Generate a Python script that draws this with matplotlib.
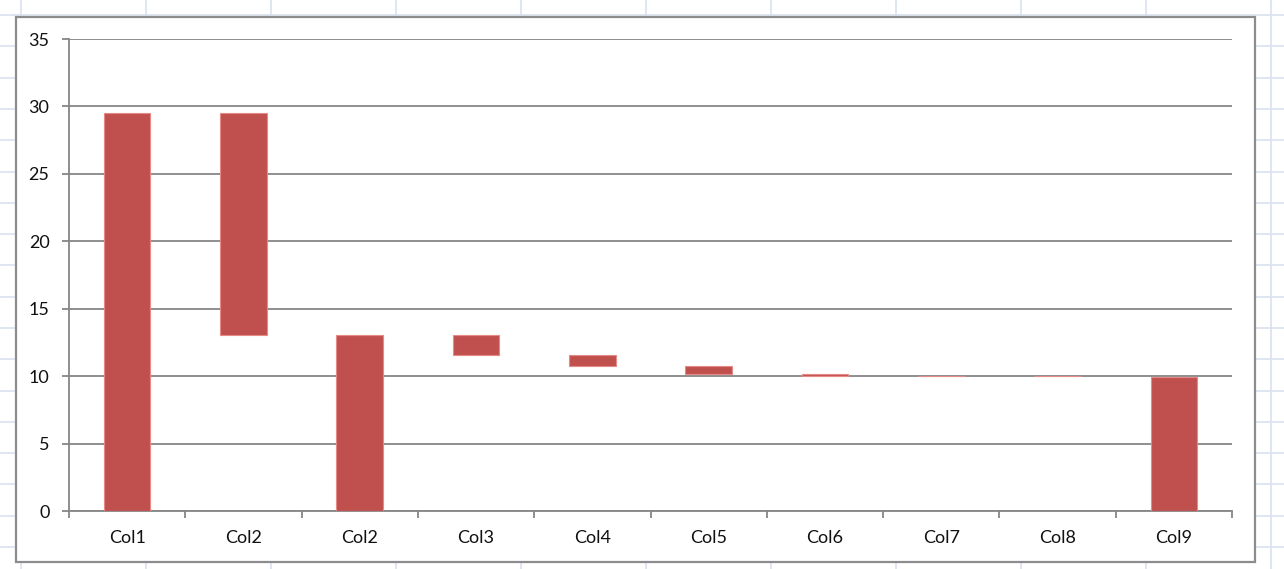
import numpy as np
import matplotlib.pyplot as plt
from matplotlib.patches import Rectangle
from matplotlib.lines import Line2D

# waterfall data
categories = ['Col1', 'Col2', 'Col2', 'Col3', 'Col4', 'Col5', 'Col6', 'Col7', 'Col8', 'Col9']
bottoms = [0, 13.05, 0, 11.58, 10.76, 10.19, 10.02, 9.99, 9.98, 0]
tops = [29.48, 29.48, 13.05, 13.05, 11.58, 10.76, 10.19, 10.02, 9.99, 9.96]
y_ticks = [0, 5, 10, 15, 20, 25, 30, 35]

plt.rcParams['font.family'] = ['Lato', 'DejaVu Sans']

fig = plt.figure(figsize=(12.84, 5.69), dpi=100)
W, H = 1284, 569

# spreadsheet grid behind the chart
for x in np.arange(20.7, W, 125):
    fig.add_artist(Line2D([x / W, x / W], [0, 1], color='#dae1ef', lw=1.2, zorder=0))
for y in np.arange(15, H, 31.3):
    fig.add_artist(Line2D([0, 1], [1 - y / H, 1 - y / H], color='#dae1ef', lw=1.2, zorder=0))

# chart area
fig.add_artist(Rectangle((16 / W, 1 - 562 / H), (1255 - 16) / W, (562 - 17) / H,
                         facecolor='white', edgecolor='#8c8c8c', lw=1.6, zorder=1))

ax = fig.add_axes([69 / W, 58 / H, (1232 - 69) / W, (511 - 39) / H], zorder=2)
ax.patch.set_alpha(0)

x = np.arange(len(categories))
heights = np.array(tops) - np.array(bottoms)
ax.bar(x, heights, bottom=bottoms, width=0.4, color='#c0504d', edgecolor='#e58a86', lw=0.8, zorder=3)

ax.set_xlim(-0.5, len(categories) - 0.5)
ax.set_ylim(0, 35)
ax.set_yticks(y_ticks)
ax.set_xticks(x)
ax.set_xticklabels(categories)
ax.set_xticks(np.arange(-0.5, len(categories)), minor=True)

ax.grid(axis='y', color='#868686', lw=1.3, zorder=1)
for s in ['top', 'right']:
    ax.spines[s].set_visible(False)
for s in ['left', 'bottom']:
    ax.spines[s].set_color('#868686')
    ax.spines[s].set_linewidth(1.3)

ax.tick_params(axis='y', length=5, width=1.3, color='#868686', pad=9, labelsize=13, labelcolor='#111111')
ax.tick_params(axis='x', which='major', length=0, pad=14, labelsize=13, labelcolor='#111111')
ax.tick_params(axis='x', which='minor', length=5, width=1.3, color='#868686')

fig.savefig('out.png', dpi=100)
